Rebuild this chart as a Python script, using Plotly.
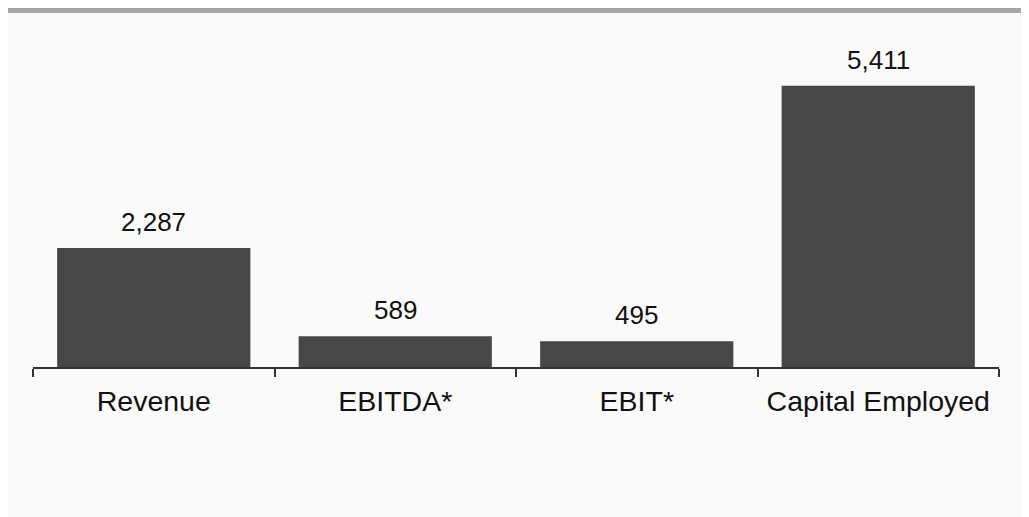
import plotly.graph_objects as go

categories = ["Revenue", "EBITDA*", "EBIT*", "Capital Employed"]
values = [2287, 589, 495, 5411]
value_labels = [f"{v:,}" for v in values]

W, H = 1029, 517
OFF = 8  # page body margin
L = 33 - OFF
R = W - (999 - OFF)
B = H - (367 - OFF)
T = (367 - OFF) - 338
pw, ph = W - L - R, H - T - B

def px_x(p):
    return (p - L) / pw

def px_y(p):
    return (H - B - p) / ph

fig = go.Figure()
fig.add_trace(go.Bar(
    x=categories, y=values, width=0.8,
    marker=dict(color="#474747", line=dict(width=0)),
    hoverinfo="skip",
))

for c, v, t in zip(categories, values, value_labels):
    fig.add_annotation(x=c, y=v, text=t, showarrow=False, yanchor="bottom",
                       yshift=9, font=dict(size=26, color="#111111"))

# background panel and top rule
fig.add_shape(type="rect", xref="paper", yref="paper",
              x0=px_x(0), x1=px_x(W + 2), y0=px_y(H + 2), y1=px_y(0),
              fillcolor="#fafafa", line=dict(width=0), layer="below")
fig.add_shape(type="rect", xref="paper", yref="paper",
              x0=px_x(0), x1=px_x(W + 2), y0=px_y(5), y1=px_y(0),
              fillcolor="#a6a6a6", line=dict(width=0), layer="below")

fig.update_layout(
    width=W, height=H,
    margin=dict(l=L, r=R, t=T, b=B, pad=0),
    paper_bgcolor="#fafafa", plot_bgcolor="#fafafa",
    font=dict(family="Liberation Sans, Arial, sans-serif", color="#111111"),
    showlegend=False, bargap=0.2,
)
fig.update_xaxes(
    showline=True, linecolor="#333333", linewidth=2,
    ticks="outside", tickson="boundaries", ticklen=8, tickwidth=1.5, tickcolor="#333333",
    tickfont=dict(size=28.5, color="#111111"), showgrid=False, zeroline=False,
    ticklabelstandoff=8,
)
fig.update_yaxes(visible=False, range=[0, 6500], showgrid=False, zeroline=False)

fig.write_html("out.html")
